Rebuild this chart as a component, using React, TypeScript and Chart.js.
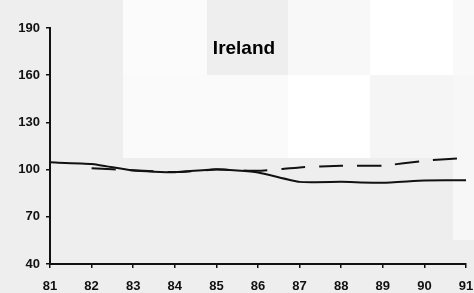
import React, { useEffect, useRef } from "react";
import { Chart, registerables } from "chart.js";

Chart.register(...registerables);

const years = ["81", "82", "83", "84", "85", "86", "87", "88", "89", "90", "91"];
const solidSeries = [104.6, 103.6, 99.4, 98.3, 100.2, 98.2, 92.2, 92.2, 91.6, 93.0, 93.3];
const dashedSeries = [null, 100.8, 99.6, 98.4, 100.0, 99.2, 101.4, 102.5, 102.5, 105.6, 107.5];
const yMin = 40;
const yMax = 190;
const yStep = 30;
const titleText = "Ireland";

// background tiles of the scanned original: [x, y, w, h, color]
const tiles: [number, number, number, number, string][] = [
  [0, 0, 474, 293, "#eeeeee"],
  [123, 0, 84, 75, "#fbfbfb"],
  [288, 0, 82, 75, "#f8f8f8"],
  [370, 0, 83, 75, "#ffffff"],
  [453, 0, 21, 75, "#f9f9f9"],
  [123, 75, 84, 83, "#fafafa"],
  [207, 75, 81, 83, "#fafafa"],
  [288, 75, 82, 83, "#ffffff"],
  [370, 75, 83, 83, "#f5f5f5"],
  [453, 75, 21, 165, "#f7f7f7"],
];

const bgPlugin = {
  id: "bgTiles",
  beforeDraw(chart: any) {
    const ctx = chart.ctx;
    ctx.save();
    for (const [x, y, w, h, c] of tiles) {
      ctx.fillStyle = c;
      ctx.fillRect(x, y, w, h);
    }
    ctx.restore();
  },
};

const titlePlugin = {
  id: "innerTitle",
  afterDraw(chart: any) {
    const ctx = chart.ctx;
    ctx.save();
    ctx.font = "bold 19px 'Liberation Sans', Arial, sans-serif";
    ctx.fillStyle = "#000";
    ctx.textAlign = "center";
    ctx.textBaseline = "alphabetic";
    ctx.fillText(titleText, 244, 54);
    ctx.restore();
  },
};

export default function App() {
  const ref = useRef<HTMLCanvasElement | null>(null);
  useEffect(() => {
    if (!ref.current) return;
    const font = { family: "'Liberation Sans', Arial, sans-serif", size: 13, weight: "bold" as const };
    const chart = new Chart(ref.current, {
      type: "line",
      data: {
        labels: years,
        datasets: [
          {
            data: solidSeries,
            borderColor: "#111",
            borderWidth: 2,
            pointRadius: 0,
            fill: false,
            tension: 0.15,
          },
          {
            data: dashedSeries as any,
            borderColor: "#111",
            borderWidth: 2,
            borderDash: [24, 14],
            pointRadius: 0,
            fill: false,
            tension: 0.15,
            spanGaps: false,
          },
        ],
      },
      options: {
        responsive: false,
        animation: false,
        layout: { padding: { left: 0, right: 8, top: 28, bottom: 0 } },
        plugins: { legend: { display: false }, tooltip: { enabled: false }, title: { display: false } },
        scales: {
          x: {
            type: "category",
            offset: false,
            grid: { drawOnChartArea: false, drawTicks: true, tickLength: 4, color: "#111", lineWidth: 1.5 },
            border: { color: "#111", width: 2 },
            ticks: { color: "#111", font, padding: 11, maxRotation: 0, autoSkip: false },
            afterFit(scale: any) {
              scale.height = 29;
              scale.paddingRight = 0;
              scale.paddingLeft = 0;
            },
          },
          y: {
            min: yMin,
            max: yMax,
            grid: { drawOnChartArea: false, drawTicks: true, tickLength: 4, color: "#111", lineWidth: 1.5 },
            border: { color: "#111", width: 2 },
            ticks: { stepSize: yStep, color: "#111", font, padding: 6 },
            afterFit(scale: any) {
              scale.width = 50;
              scale.paddingTop = 0;
              scale.paddingBottom = 0;
            },
          },
        },
      },
      plugins: [bgPlugin, titlePlugin],
    });
    return () => chart.destroy();
  }, []);
  return (
    <div style={{ position: "fixed", left: 0, top: 0, width: 474, height: 293 }}>
      <canvas ref={ref} width={474} height={293} style={{ width: 474, height: 293, display: "block" }} />
    </div>
  );
}
